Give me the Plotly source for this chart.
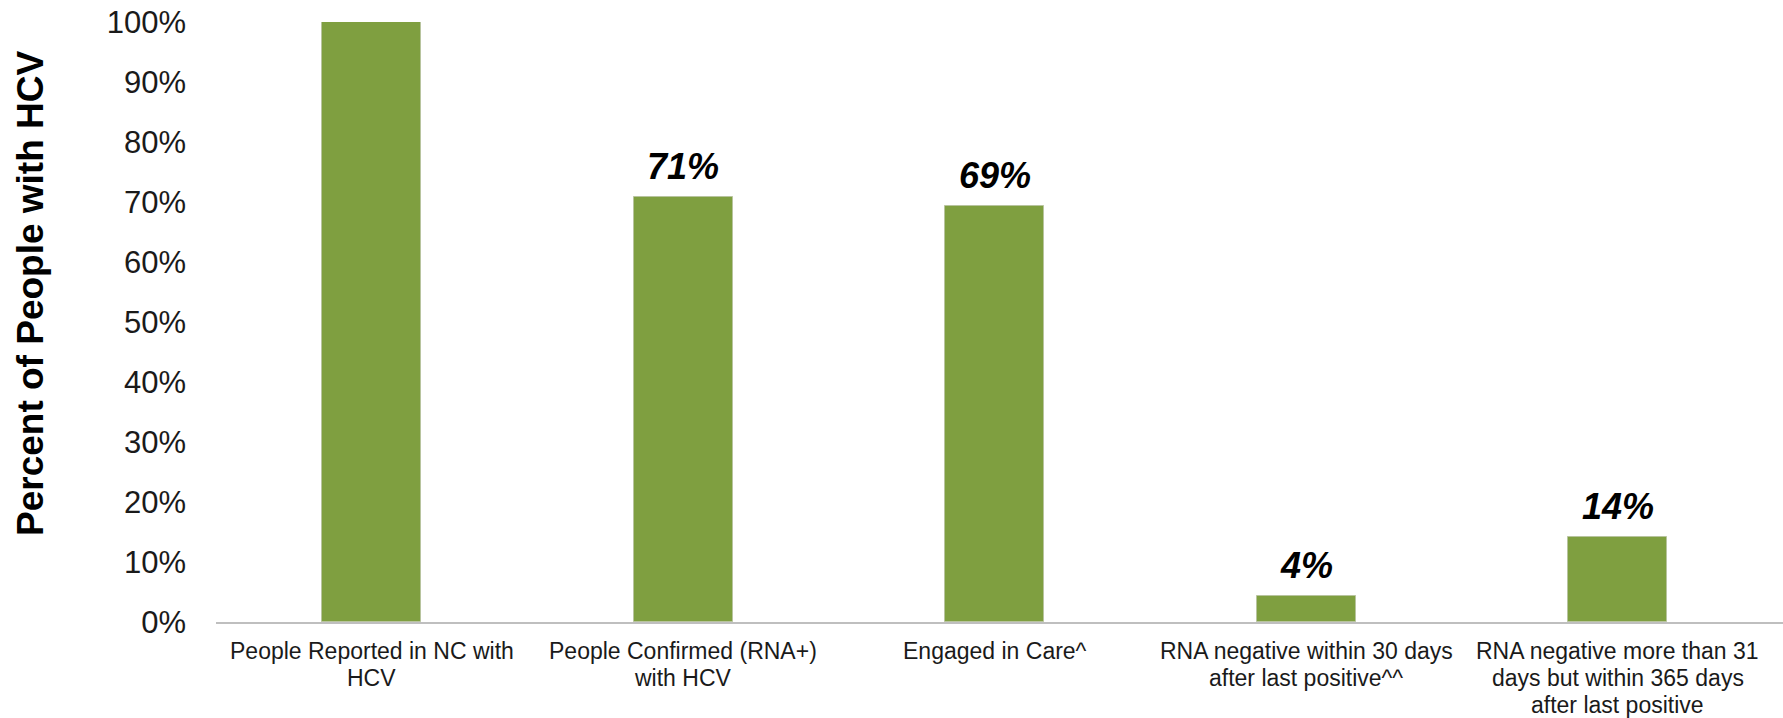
import plotly.graph_objects as go

# HCV care cascade, North Carolina
categories = [
    "People Reported in NC with<br>HCV",
    "People Confirmed (RNA+)<br>with HCV",
    "Engaged in Care^",
    "RNA negative within 30 days<br>after last positive^^",
    "RNA negative more than 31<br>days but within 365 days<br>after last positive",
]
percent_values = [100, 70.9, 69.3, 4.4, 14.2]
show_label = [False, True, True, True, True]
y_ticks = list(range(0, 101, 10))
y_tick_text = [f"{t}%" for t in y_ticks]

BAR_COLOR = "#7f9f40"
FONT = "Liberation Sans, Arial, sans-serif"
TEXT_COLOR = "#1a1a1a"

W, H = 1783, 718
L, R, T, B = 216, 0, 22, 96

fig = go.Figure()
fig.add_trace(go.Bar(
    x=list(range(len(categories))),
    y=percent_values,
    width=0.318,
    marker=dict(color=BAR_COLOR, line=dict(color="#b8c49e", width=1)),
    hoverinfo="skip",
))

# value labels above the bars
for i, (v, show) in enumerate(zip(percent_values, show_label)):
    if not show:
        continue
    fig.add_annotation(
        x=i, y=v, xref="x", yref="y",
        text=f"<b><i>{v:.0f}%</i></b>",
        showarrow=False, yanchor="bottom", yshift=8,
        font=dict(family=FONT, size=36, color="#000000"),
    )

# category labels, one text per line for a tighter line spacing
LINE_GAP = 27
FIRST_LINE = 29
for i, label in enumerate(categories):
    for k, line in enumerate(label.split("<br>")):
        fig.add_annotation(
            x=i, y=0, xref="x", yref="paper",
            text=line, showarrow=False,
            xanchor="center", yanchor="middle",
            yshift=-(FIRST_LINE + k * LINE_GAP),
            font=dict(family=FONT, size=23, color=TEXT_COLOR),
        )

# rotated axis title (position given in pixels, converted to paper units)
title_px = (30, 293)
fig.add_annotation(
    x=(title_px[0] - L) / (W - L - R),
    y=1 - (title_px[1] - T) / (H - T - B),
    xref="paper", yref="paper",
    text="<b>Percent of People with HCV</b>",
    textangle=-90, showarrow=False,
    xanchor="center", yanchor="middle",
    font=dict(family=FONT, size=37, color="#000000"),
)

fig.update_layout(
    width=W, height=H,
    margin=dict(l=L, r=R, t=T, b=B, pad=0, autoexpand=False),
    plot_bgcolor="white", paper_bgcolor="white",
    showlegend=False,
    font=dict(family=FONT, color=TEXT_COLOR),
    xaxis=dict(
        tickmode="array",
        tickvals=list(range(len(categories))),
        showticklabels=False,
        range=[-0.5, 4.53],
        showgrid=False, zeroline=False,
        showline=True, linecolor="#bfbfbf", linewidth=2,
        ticks="",
        automargin=False,
    ),
    yaxis=dict(
        range=[0, 100],
        tickmode="array",
        tickvals=y_ticks,
        ticktext=y_tick_text,
        showgrid=False, zeroline=False, showline=False,
        ticks="", tickfont=dict(size=31, color=TEXT_COLOR),
        ticklabelstandoff=29,
        automargin=False,
    ),
    bargap=0,
)

fig.write_html("out.html")
